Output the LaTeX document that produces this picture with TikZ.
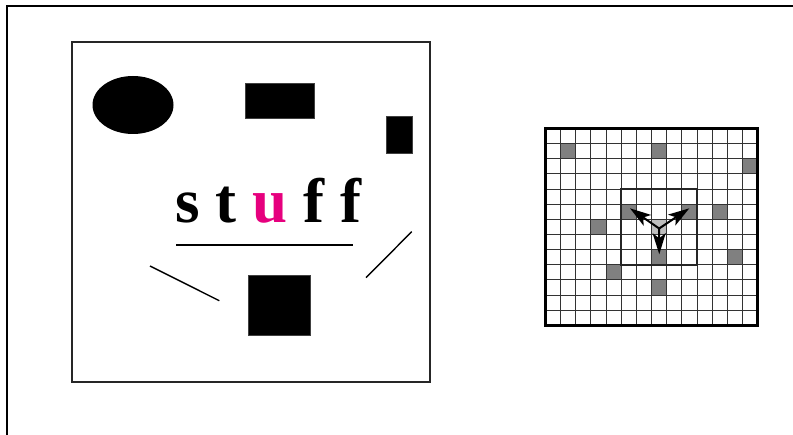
\documentclass[tikz,border=0pt]{standalone}
\usepackage{fontspec}
\setmainfont{Liberation Serif}
\usetikzlibrary{shapes.geometric, arrows.meta, positioning, calc}
\definecolor{stuffpink}{RGB}{230,0,126}
\definecolor{cellgray}{RGB}{128,128,128}
\definecolor{hubgray}{RGB}{190,190,190}

\begin{document}
\begin{tikzpicture}[
    x=1pt, y=-1pt,
    blob/.style={rectangle, fill=black, draw=black!75, inner sep=0pt},
    panel/.style={draw=black!85, line width=1.3pt},
    stroke/.style={line width=1.4pt},
    gridline/.style={draw=black!80, line width=1pt},
    darkcell/.style={fill=cellgray},
    spoke/.style={line width=2pt, -{Stealth[length=21pt, width=13pt, inset=5pt]}}
]
\useasboundingbox (0,0) rectangle (793,435);

% Frame
\draw[line width=2.2pt] (7,435) |- (793,6);

% Left panel
\draw[panel] (72,42) rectangle (430,382);
\node (disc) [ellipse, fill=black, inner sep=0pt, minimum width=81pt, minimum height=58pt] at (133,105) {};
\node (bar) [blob, minimum width=69pt, minimum height=35pt] at (279.5,100.8) {};
\node (tab) [blob, minimum width=26pt, minimum height=37pt] at (398.7,134.7) {};
\node (block) [blob, minimum width=62pt, minimum height=60pt] at (279,305) {};
\node (word) [anchor=base, inner sep=0pt, font=\fontsize{63}{63}\selectfont\bfseries] at (268.5,223)
    {s\hspace{16pt}t\hspace{16pt}\textcolor{stuffpink}{u}\hspace{16pt}f\hspace{16pt}f};
\draw[stroke] (176,245) -- (352.7,245);
\draw[stroke] (150,266) -- (219.3,300.7);
\draw[stroke] (366,277.7) -- (411.7,231.7);

% Grid
\begin{scope}[shift={(545.5,128.5)}, x=15.15pt, y=-15.15pt]
  \foreach \c/\r in {1/1, 7/1, 13/2, 5/5, 9/5, 11/5, 3/6, 7/8, 12/8, 4/9, 7/10}
    \fill[darkcell] (\c,\r) rectangle ++(1,1);
  \fill[hubgray] (7,6) rectangle ++(1,1);
  \foreach \i in {1,...,13}
    \draw[gridline] (\i,0) -- (\i,13);
  \foreach \j in {1,...,12}
    \draw[gridline] (0,\j) -- (14,\j);
  \draw[line width=2.5pt] (0,0) rectangle (14,13);
  \draw[line width=2.3pt, draw=black!85] (5,4) rectangle (10,9);
  % Spokes
  \coordinate (hub) at (7.5,6.6);
  \coordinate (tipl) at (5.58,5.27);
  \coordinate (tipr) at (9.49,5.27);
  \coordinate (tipd) at (7.51,8.3);
\end{scope}
\draw[spoke] (hub) -- (tipl);
\draw[spoke] (hub) -- (tipr);
\draw[spoke] (hub) -- (tipd);

\end{tikzpicture}
\end{document}
